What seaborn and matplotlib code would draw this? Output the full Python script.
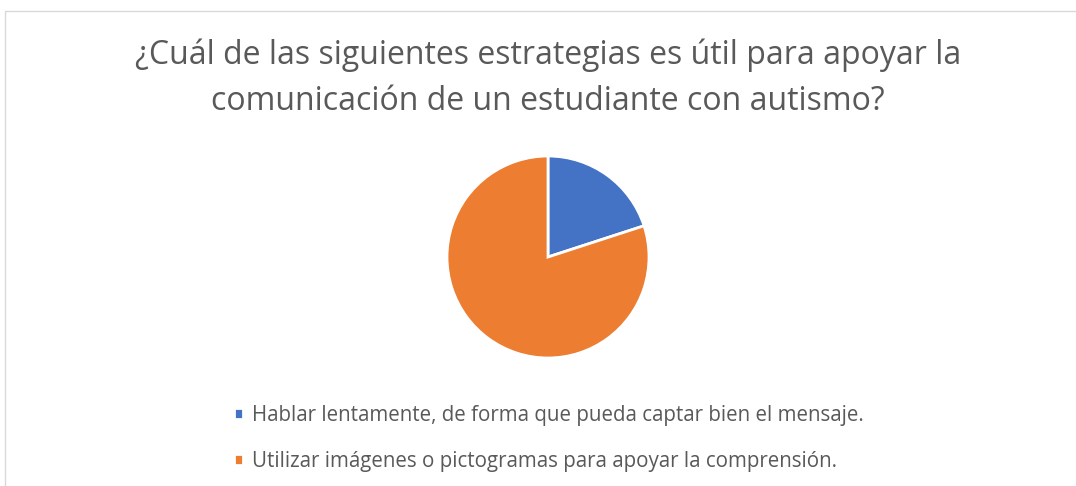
import seaborn as sns
import matplotlib.pyplot as plt
from matplotlib.patches import Rectangle

title = "¿Cuál de las siguientes estrategias es útil para apoyar la\ncomunicación de un estudiante con autismo?"
labels = [
    "Hablar lentamente, de forma que pueda captar bien el mensaje.",
    "Utilizar imágenes o pictogramas para apoyar la comprensión.",
]
values = [20, 80]
colors = ["#4472C4", "#ED7D31"]

sns.set_theme(style="white")
plt.rcParams['font.family'] = ['Open Sans', 'DejaVu Sans']

W, H = 1076, 486
fig = plt.figure(figsize=(W / 100, H / 100), dpi=100)

# chart frame
fig.patches.append(Rectangle((4.5 / W, -0.1), 1.2, 1 - 10.5 / H + 0.1,
                             transform=fig.transFigure, fill=False,
                             edgecolor="#d9d9d9", linewidth=1.0))

# pie centred at (548, 257) px, radius ~101 px
cx, cy, r = 548, 257, 101
ax = fig.add_axes([(cx - r) / W, (H - cy - r) / H, 2 * r / W, 2 * r / H])
wedges, _ = ax.pie(values, colors=colors, startangle=90, counterclock=False,
                   wedgeprops=dict(edgecolor="white", linewidth=2))
ax.set_xlim(-1, 1)
ax.set_ylim(-1, 1)
ax.set_aspect("equal")
ax.axis("off")

fig.text(548 / W, 1 - 39 / H, title, ha="center", va="top",
         fontsize=23, color="#595959", linespacing=1.49)

leg = fig.legend(wedges, labels, loc="upper left",
                 bbox_to_anchor=(215 / W, 1 - 386 / H), frameon=False,
                 fontsize=14.8, labelcolor="#595959", handlelength=0.45,
                 handleheight=0.45, handletextpad=0.45, labelspacing=1.25)

fig.savefig("out.png", dpi=100, facecolor="white")
